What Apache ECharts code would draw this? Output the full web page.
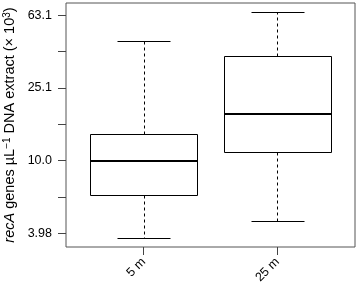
<!DOCTYPE html>
<html>
<head>
<meta charset="utf-8">
<script src="https://cdn.jsdelivr.net/npm/echarts@6/dist/echarts.min.js"></script>
<style>html,body{margin:0;padding:0;background:#fff}#c{width:357px;height:285px}</style>
</head>
<body>
<div id="c"></div>
<script>
// categories and box statistics (recA genes per µL, × 10^3)
const categories = ['5 m', '25 m'];
const whiskerLow = [3.75, 4.62];
const quartile1 = [6.47, 11.17];
const medians = [9.95, 17.95];
const quartile3 = [14.06, 37.84];
const whiskerHigh = [45.4, 65.8];
// y tick values on log10 scale and labels
const tickValues = [0.6, 0.8, 1.0, 1.2, 1.4, 1.6, 1.8];
const labelValues = [0.6, 1.0, 1.4, 1.8];
const tickLabels = ['3.98', '10.0', '25.1', '63.1'];

const L = Math.log10;
const data = categories.map((c, i) => [i + 1, L(whiskerLow[i]), L(quartile1[i]), L(medians[i]), L(quartile3[i]), L(whiskerHigh[i])]);

const FONT = 'Liberation Sans, Arial, Helvetica, sans-serif';
const chart = echarts.init(document.getElementById('c'), null, {renderer: 'canvas'});

function renderItem(params, api) {
  const x = api.value(0);
  const lo = api.value(1), q1 = api.value(2), md = api.value(3), q3 = api.value(4), hi = api.value(5);
  const pLo = api.coord([x, lo]), pQ1 = api.coord([x, q1]), pMd = api.coord([x, md]), pQ3 = api.coord([x, q3]), pHi = api.coord([x, hi]);
  const bl = api.coord([x - 0.4, md])[0], br = api.coord([x + 0.4, md])[0];
  const cl = api.coord([x - 0.2, md])[0], cr = api.coord([x + 0.2, md])[0];
  const cx = Math.round(pMd[0]) + 0.5;
  const r = v => Math.round(v) + 0.5;
  const black = {stroke: '#000', lineWidth: 1, fill: null};
  return {
    type: 'group',
    children: [
      {type: 'line', shape: {x1: cx, y1: r(pQ3[1]), x2: cx, y2: r(pHi[1])}, style: Object.assign({}, black, {lineDash: [3, 3]})},
      {type: 'line', shape: {x1: cx, y1: r(pQ1[1]), x2: cx, y2: r(pLo[1])}, style: Object.assign({}, black, {lineDash: [3, 3]})},
      {type: 'line', shape: {x1: r(cl), y1: r(pHi[1]), x2: r(cr), y2: r(pHi[1])}, style: black},
      {type: 'line', shape: {x1: r(cl), y1: r(pLo[1]), x2: r(cr), y2: r(pLo[1])}, style: black},
      {type: 'rect', shape: {x: r(bl), y: r(pQ3[1]), width: Math.round(br - bl), height: Math.round(pQ1[1] - pQ3[1])}, style: {stroke: '#000', lineWidth: 1, fill: '#fff'}},
      {type: 'line', shape: {x1: r(bl), y1: Math.round(pMd[1]), x2: r(br), y2: Math.round(pMd[1])}, style: {stroke: '#000', lineWidth: 2}}
    ]
  };
}

chart.setOption({
  animation: false,
  backgroundColor: '#fff',
  grid: {left: 66, right: 2, top: 3, bottom: 38, show: true, borderColor: '#555', borderWidth: 1, backgroundColor: 'transparent',
         containLabel: false, outerBoundsMode: 'none'},
  xAxis: {
    type: 'value', min: 0.42, max: 2.58,
    axisLine: {show: false},
    splitLine: {show: false},
    axisTick: {show: true, length: 8, inside: false, customValues: [1, 2], lineStyle: {color: '#444'}},
    axisLabel: {
      customValues: [1, 2], rotate: 45, margin: 13, fontSize: 12.5, fontFamily: FONT, color: '#000',
      formatter: v => categories[Math.round(v) - 1] || ''
    }
  },
  yAxis: {
    type: 'value', min: 0.524, max: 1.868,
    axisLine: {show: false},
    splitLine: {show: false},
    axisTick: {show: true, length: 8, customValues: tickValues, lineStyle: {color: '#444'}},
    axisLabel: {
      customValues: labelValues, margin: 14, fontSize: 12.5, fontFamily: FONT, color: '#000',
      formatter: v => {
        const i = labelValues.findIndex(t => Math.abs(t - v) < 1e-6);
        return i >= 0 ? tickLabels[i] : '';
      }
    },
    name: '{i|recA} genes µL{s|−1} DNA extract (× 10{s|3})',
    nameLocation: 'middle', nameRotate: 90, nameGap: 48, nameMoveOverlap: false,
    nameTextStyle: {
      fontSize: 14.5, fontFamily: FONT, color: '#000', lineHeight: 16,
      rich: {
        i: {fontStyle: 'italic', fontSize: 14.5, fontFamily: FONT, color: '#000', lineHeight: 16},
        s: {fontSize: 10, fontFamily: FONT, color: '#000', verticalAlign: 'top', lineHeight: 16}
      }
    }
  },
  series: [{
    type: 'custom',
    renderItem: renderItem,
    encode: {x: 0, y: [1, 2, 3, 4, 5]},
    data: data
  }]
});
</script>
</body>
</html>
